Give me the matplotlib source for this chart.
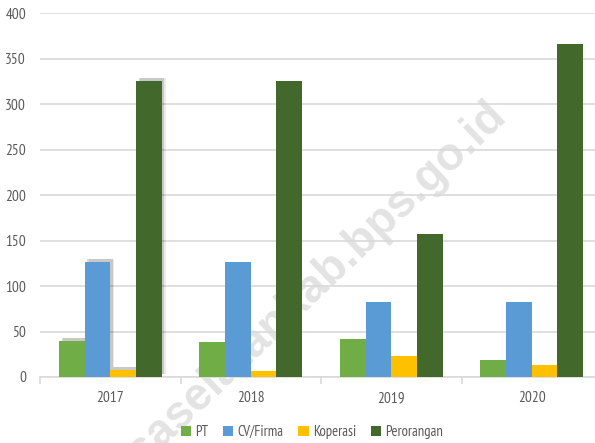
import numpy as np
import matplotlib
matplotlib.use("Agg")
import matplotlib.pyplot as plt
import matplotlib.patheffects as pe

years = ["2017", "2018", "2019", "2020"]
series = ["PT", "CV/Firma", "Koperasi", "Perorangan"]
pt = [40, 39, 42, 19]
cv_firma = [127, 126, 82, 83]
koperasi = [8, 7, 23, 13]
perorangan = [326, 325, 157, 366]
colors = ["#70AD47", "#5B9BD5", "#FFC000", "#43682B"]

plt.rcParams["font.family"] = ["PT Sans Narrow", "DejaVu Sans"]

W, H = 595, 443
fig = plt.figure(figsize=(W / 100, H / 100), dpi=100)
ax = fig.add_axes([40 / W, 1 - 377 / H, (602 - 40) / W, (377 - 13.3) / H])

# watermark behind the bars
fig.text(508 / W, 1 - 117 / H, "minahasaselatankab.bps.go.id", rotation=43.6,
         rotation_mode="anchor", ha="right", va="baseline", fontsize=33,
         fontweight="bold", color="#E3E3E3", family="Liberation Sans",
         zorder=0.5)
ax.set_zorder(1)
ax.patch.set_alpha(0)

x = np.arange(len(years))
bw = 0.183
data = [pt, cv_firma, koperasi, perorangan]
first = []
for i, (name, vals) in enumerate(zip(series, data)):
    bars = ax.bar(x + (i - 1.5) * bw, vals, bw, color=colors[i], label=name,
                  zorder=3)
    first.append(bars[0])

ax.set_ylim(0, 400)
ax.set_xlim(-0.5, 3.5)
ax.set_yticks(range(0, 401, 50))
ax.yaxis.grid(True, color="#D9D9D9", linewidth=1.2, zorder=0)
ax.set_axisbelow(True)
for s in ["top", "right", "left"]:
    ax.spines[s].set_visible(False)
ax.spines["bottom"].set_color("#D9D9D9")
ax.spines["bottom"].set_linewidth(1.2)

ax.set_xticks(x)
ax.set_xticklabels(years)
ax.set_xticks(np.arange(-0.5, 4, 1), minor=True)
ax.tick_params(axis="x", which="major", length=0, pad=10, labelsize=11,
               labelcolor="#595959")
ax.tick_params(axis="x", which="minor", length=5, width=1.2, color="#D9D9D9")
ax.tick_params(axis="y", length=0, pad=10, labelsize=11, labelcolor="#595959")

fig.legend(loc="center", bbox_to_anchor=(312 / W, 1 - 432 / H), ncol=4,
           frameon=False, fontsize=10.5, handlelength=0.7, handleheight=0.7,
           handletextpad=0.3, columnspacing=1.0, labelcolor="#595959")

# soft shadow on the 2017 group only (added after the legend so handles stay clean)
for b in first:
    b.set_path_effects([
        pe.SimplePatchShadow(offset=(3, 2), shadow_rgbFace="#000000", alpha=0.08),
        pe.SimplePatchShadow(offset=(2, 2), shadow_rgbFace="#000000", alpha=0.15),
        pe.Normal()])

fig.savefig("out.png", dpi=100)
